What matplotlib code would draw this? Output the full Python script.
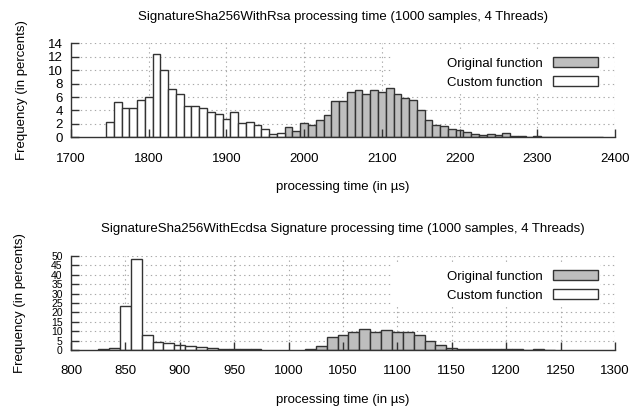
import numpy as np
import matplotlib
matplotlib.use("Agg")
import matplotlib.pyplot as plt
from matplotlib.patches import Rectangle

plt.rcParams['font.family'] = ['Liberation Sans', 'DejaVu Sans']
plt.rcParams['font.size'] = 9.5

# --- RSA: percent of samples per 10 us bin (bin centres) ---
rsa_orig_bins = np.arange(1960, 2390, 10)
rsa_orig = [0.3, 0.4, 1.5, 0.9, 2.2, 1.9, 2.6, 3.3, 5.4, 5.4,
            6.7, 7.0, 6.4, 7.0, 6.7, 7.3, 6.4, 5.8, 5.6, 4.0,
            2.6, 1.9, 1.7, 1.2, 1.1, 0.75, 0.5, 0.35, 0.5, 0.35,
            0.6, 0.2, 0.2, 0.1, 0.2, 0.1, 0.1, 0.1, 0.1, 0.1,
            0.1, 0.1, 0.1]
rsa_cust_bins = np.arange(1750, 1980, 10)
rsa_cust = [2.3, 5.3, 4.4, 4.3, 5.5, 6.0, 12.4, 10.0, 7.2, 6.5,
            4.7, 4.7, 4.4, 3.8, 3.4, 2.8, 3.7, 2.1, 2.3, 1.9,
            1.2, 0.45, 0.6]

# --- ECDSA ---
ecdsa_orig_bins = np.arange(1020, 1250, 10)
ecdsa_orig = [0.4, 2.0, 7.0, 8.1, 9.8, 11.1, 9.7, 10.5, 9.5, 9.4,
              7.8, 4.9, 2.6, 0.9, 0.4, 0.3, 0.3, 0.5, 0.3, 0.3,
              0.2, 0.5, 0.1]
ecdsa_cust_bins = np.arange(830, 980, 10)
ecdsa_cust = [0.3, 1.0, 23.4, 48.4, 8.0, 4.4, 3.5, 2.7, 2.1, 1.8,
              1.2, 0.5, 0.3, 0.3, 0.3]

rsa_xticks = np.arange(1700, 2401, 100)
rsa_yticks = np.arange(0, 15, 2)
ecdsa_xticks = np.arange(800, 1301, 50)
ecdsa_yticks = np.arange(0, 51, 5)

titles = ["SignatureSha256WithRsa processing time (1000 samples, 4 Threads)",
          "SignatureSha256WithEcdsa Signature processing time (1000 samples, 4 Threads)"]

edge = '#333333'
grey = '#bebebe'

fig = plt.figure(figsize=(6.38, 4.09), dpi=100)
ax1 = fig.add_axes([71 / 638, 1 - 137.3 / 409, 544 / 638, 94 / 409])
ax2 = fig.add_axes([71 / 638, 1 - 350 / 409, 544 / 638, 94 / 409])

panels = [
    (ax1, rsa_orig_bins, rsa_orig, rsa_cust_bins, rsa_cust, rsa_xticks, rsa_yticks, titles[0], 9.5),
    (ax2, ecdsa_orig_bins, ecdsa_orig, ecdsa_cust_bins, ecdsa_cust, ecdsa_xticks, ecdsa_yticks, titles[1], 7.5),
]

for ax, ob, ov, cb, cv, xt, yt, title, yfs in panels:
    # dotted grid behind the boxes
    for y in yt[1:]:
        ax.axhline(y, color='#a8a8a8', lw=0.8, ls=(0, (1.2, 3)), zorder=0.3)
    for x in xt[1:]:
        ax.axvline(x, color='#a8a8a8', lw=0.8, ls=(0, (1.2, 3)), zorder=0.3)
    # opaque key background like gnuplot
    ax.add_patch(Rectangle((0.592, 0.46), 0.38, 0.475, transform=ax.transAxes,
                           facecolor='white', edgecolor='none', zorder=0.6))

    ax.bar(ob, ov, width=10, color=grey, edgecolor=edge, lw=1.0,
           label='Original function', zorder=1)
    ax.bar(cb, cv, width=10, color='white', edgecolor=edge, lw=1.0,
           label='Custom function', zorder=1.1)

    ax.set_xlim(xt[0], xt[-1])
    ax.set_ylim(yt[0], yt[-1])
    ax.set_xticks(xt)
    ax.set_yticks(yt)
    ax.spines['top'].set_visible(False)
    ax.spines['right'].set_visible(False)
    for s in ('left', 'bottom'):
        ax.spines[s].set_color(edge)
        ax.spines[s].set_linewidth(1.0)
    ax.tick_params(direction='in', length=6, width=1.0, color=edge, labelcolor='black')
    ax.tick_params(axis='x', pad=11)
    ax.tick_params(axis='y', pad=6, labelsize=yfs)

    ax.set_title(title, fontsize=9.5, pad=17)
    ax.set_xlabel("processing time (in µs)", labelpad=12)
    ax.set_ylabel("Frequency (in percents)", labelpad=14 + (9.5 - yfs) * 2)

    ax.legend(loc='upper right', bbox_to_anchor=(0.968, 0.85), frameon=False,
              markerfirst=False, handlelength=3.4, handleheight=0.75,
              handletextpad=0.75, labelspacing=0.5, borderpad=0,
              borderaxespad=0)

fig.savefig("out.png", dpi=100)
